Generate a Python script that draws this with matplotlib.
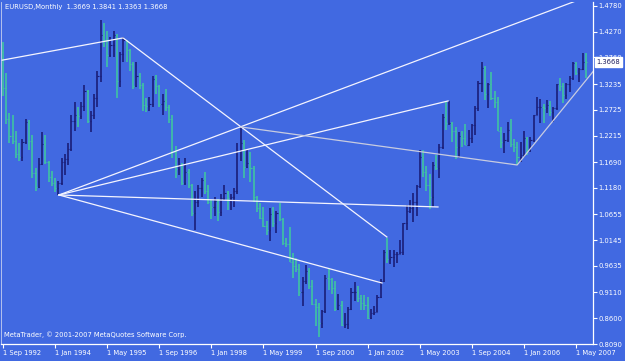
import matplotlib.pyplot as plt
import numpy as np

# EURUSD monthly bars, Sep 1992 .. Aug 2007 (one row per year)
bar_open = [
    1.387, 1.315, 1.255, 1.220,
    1.211, 1.185, 1.180, 1.209, 1.248, 1.210, 1.147, 1.120, 1.165, 1.205, 1.170, 1.140,
    1.127, 1.117, 1.128, 1.170, 1.175, 1.195, 1.250, 1.262, 1.260, 1.280, 1.310, 1.250,
    1.262, 1.295, 1.340, 1.420, 1.410, 1.380, 1.400, 1.420, 1.330, 1.383, 1.410, 1.390,
    1.364, 1.320, 1.340, 1.322, 1.282, 1.280, 1.284, 1.333, 1.320, 1.284, 1.290, 1.278,
    1.254, 1.188, 1.155, 1.164, 1.128, 1.150, 1.124, 1.068, 1.090, 1.118, 1.133, 1.112,
    1.090, 1.080, 1.092, 1.071, 1.098, 1.108, 1.097, 1.100, 1.111, 1.190, 1.207, 1.160,
    1.167, 1.158, 1.100, 1.078, 1.058, 1.043, 1.034, 1.066, 1.049, 1.068, 1.056, 1.009,
    1.007, 0.972, 0.964, 0.957, 0.912, 0.934, 0.953, 0.924, 0.889, 0.883, 0.850, 0.874,
    0.940, 0.938, 0.920, 0.878, 0.887, 0.846, 0.848, 0.878, 0.911, 0.912, 0.901, 0.890,
    0.887, 0.860, 0.870, 0.872, 0.903, 0.933, 0.992, 0.978, 0.982, 0.987, 0.988, 0.992,
    1.049, 1.073, 1.078, 1.091, 1.121, 1.180, 1.149, 1.124, 1.099, 1.164, 1.158, 1.199,
    1.259, 1.246, 1.247, 1.230, 1.198, 1.220, 1.217, 1.202, 1.217, 1.242, 1.276, 1.326,
    1.356, 1.304, 1.323, 1.296, 1.287, 1.230, 1.209, 1.212, 1.232, 1.205, 1.199, 1.179,
    1.184, 1.216, 1.192, 1.212, 1.262, 1.279, 1.279, 1.276, 1.282, 1.268, 1.276, 1.324,
    1.320, 1.301, 1.323, 1.336, 1.365, 1.345, 1.353, 1.3669,
]
bar_high = [
    1.407, 1.345, 1.266, 1.262,
    1.230, 1.207, 1.215, 1.254, 1.252, 1.222, 1.157, 1.178, 1.228, 1.222, 1.171, 1.152,
    1.137, 1.132, 1.178, 1.185, 1.207, 1.262, 1.287, 1.278, 1.287, 1.322, 1.312, 1.270,
    1.304, 1.349, 1.450, 1.445, 1.428, 1.417, 1.428, 1.422, 1.387, 1.417, 1.411, 1.392,
    1.368, 1.368, 1.345, 1.325, 1.295, 1.298, 1.340, 1.342, 1.322, 1.304, 1.313, 1.282,
    1.262, 1.200, 1.178, 1.168, 1.178, 1.155, 1.126, 1.111, 1.124, 1.137, 1.150, 1.124,
    1.093, 1.099, 1.095, 1.105, 1.124, 1.112, 1.105, 1.118, 1.207, 1.238, 1.212, 1.193,
    1.188, 1.161, 1.101, 1.088, 1.081, 1.052, 1.079, 1.080, 1.072, 1.088, 1.058, 1.019,
    1.041, 0.990, 0.979, 0.968, 0.942, 0.966, 0.960, 0.936, 0.899, 0.890, 0.876, 0.945,
    0.959, 0.940, 0.933, 0.908, 0.894, 0.870, 0.883, 0.919, 0.931, 0.924, 0.905, 0.905,
    0.903, 0.878, 0.884, 0.906, 0.937, 0.996, 1.018, 0.995, 0.996, 0.991, 1.015, 1.049,
    1.085, 1.094, 1.108, 1.123, 1.193, 1.193, 1.161, 1.145, 1.170, 1.184, 1.205, 1.265,
    1.290, 1.290, 1.249, 1.239, 1.228, 1.230, 1.244, 1.233, 1.244, 1.280, 1.330, 1.367,
    1.359, 1.326, 1.348, 1.309, 1.298, 1.238, 1.227, 1.248, 1.255, 1.215, 1.208, 1.209,
    1.231, 1.219, 1.218, 1.263, 1.298, 1.293, 1.284, 1.292, 1.289, 1.279, 1.324, 1.336,
    1.326, 1.326, 1.339, 1.368, 1.367, 1.355, 1.385, 1.3841,
]
bar_low = [
    1.300, 1.245, 1.207, 1.205,
    1.178, 1.171, 1.171, 1.205, 1.193, 1.137, 1.111, 1.118, 1.163, 1.165, 1.130, 1.122,
    1.110, 1.104, 1.124, 1.144, 1.164, 1.190, 1.230, 1.238, 1.254, 1.270, 1.246, 1.228,
    1.254, 1.278, 1.327, 1.397, 1.358, 1.377, 1.377, 1.295, 1.318, 1.368, 1.368, 1.349,
    1.313, 1.318, 1.313, 1.270, 1.268, 1.270, 1.278, 1.304, 1.278, 1.262, 1.270, 1.246,
    1.178, 1.137, 1.144, 1.124, 1.124, 1.118, 1.063, 1.035, 1.081, 1.099, 1.105, 1.087,
    1.057, 1.063, 1.052, 1.063, 1.093, 1.075, 1.075, 1.081, 1.105, 1.171, 1.137, 1.157,
    1.129, 1.090, 1.071, 1.057, 1.041, 1.025, 1.012, 1.040, 1.028, 1.052, 1.005, 1.000,
    0.972, 0.940, 0.951, 0.904, 0.885, 0.928, 0.917, 0.886, 0.845, 0.823, 0.840, 0.870,
    0.915, 0.908, 0.874, 0.877, 0.844, 0.840, 0.838, 0.876, 0.895, 0.892, 0.876, 0.876,
    0.858, 0.858, 0.866, 0.872, 0.900, 0.932, 0.969, 0.968, 0.962, 0.969, 0.987, 0.986,
    1.034, 1.068, 1.050, 1.062, 1.117, 1.140, 1.112, 1.077, 1.081, 1.153, 1.138, 1.195,
    1.233, 1.242, 1.208, 1.176, 1.177, 1.198, 1.203, 1.201, 1.206, 1.222, 1.271, 1.307,
    1.292, 1.277, 1.291, 1.277, 1.230, 1.196, 1.187, 1.209, 1.199, 1.189, 1.164, 1.169,
    1.180, 1.183, 1.189, 1.208, 1.262, 1.246, 1.246, 1.267, 1.260, 1.248, 1.273, 1.309,
    1.286, 1.293, 1.308, 1.332, 1.341, 1.327, 1.352, 1.3363,
]
bar_close = [
    1.315, 1.255, 1.220, 1.211,
    1.185, 1.180, 1.209, 1.248, 1.210, 1.147, 1.120, 1.165, 1.205, 1.170, 1.140, 1.127,
    1.117, 1.128, 1.170, 1.175, 1.195, 1.250, 1.262, 1.260, 1.280, 1.310, 1.250, 1.262,
    1.295, 1.340, 1.420, 1.410, 1.380, 1.400, 1.420, 1.330, 1.383, 1.410, 1.390, 1.364,
    1.320, 1.340, 1.322, 1.282, 1.280, 1.284, 1.333, 1.320, 1.284, 1.290, 1.278, 1.254,
    1.188, 1.155, 1.164, 1.128, 1.150, 1.124, 1.068, 1.090, 1.118, 1.133, 1.112, 1.090,
    1.080, 1.092, 1.071, 1.098, 1.108, 1.097, 1.100, 1.111, 1.190, 1.207, 1.160, 1.167,
    1.158, 1.100, 1.078, 1.058, 1.043, 1.034, 1.066, 1.049, 1.068, 1.056, 1.009, 1.007,
    0.972, 0.964, 0.957, 0.912, 0.934, 0.953, 0.924, 0.889, 0.883, 0.850, 0.874, 0.940,
    0.938, 0.920, 0.878, 0.887, 0.846, 0.848, 0.878, 0.911, 0.912, 0.901, 0.890, 0.887,
    0.860, 0.870, 0.872, 0.903, 0.933, 0.992, 0.978, 0.982, 0.987, 0.988, 0.992, 1.049,
    1.073, 1.078, 1.091, 1.121, 1.180, 1.149, 1.124, 1.099, 1.164, 1.158, 1.199, 1.259,
    1.246, 1.247, 1.230, 1.198, 1.220, 1.217, 1.202, 1.217, 1.242, 1.276, 1.326, 1.356,
    1.304, 1.323, 1.296, 1.287, 1.230, 1.209, 1.212, 1.232, 1.205, 1.199, 1.179, 1.184,
    1.216, 1.192, 1.212, 1.262, 1.279, 1.279, 1.276, 1.282, 1.268, 1.276, 1.324, 1.320,
    1.301, 1.323, 1.336, 1.365, 1.345, 1.353, 1.367, 1.3668,
]

# bar index of each date label (every 16 months)
date_ticks = [0, 16, 32, 48, 64, 80, 96, 112, 128, 144, 160, 176]
date_labels = ["1 Sep 1992", "1 Jan 1994", "1 May 1995", "1 Sep 1996", "1 Jan 1998",
               "1 May 1999", "1 Sep 2000", "1 Jan 2002", "1 May 2003", "1 Sep 2004",
               "1 Jan 2006", "1 May 2007"]
price_ticks = [1.4780, 1.4270, 1.3760, 1.3235, 1.2725, 1.2215, 1.1690,
               1.1180, 1.0655, 1.0145, 0.9635, 0.9110, 0.8600, 0.8090]
last_price = 1.3668
header = "EURUSD,Monthly  1.3669 1.3841 1.3363 1.3668"
copyright_note = "MetaTrader, \u00a9 2001-2007 MetaQuotes Software Corp."

# hand drawn trend lines: (bar index, price) points
white_lines = [
    [(-0.6, 1.3703), (36.9, 1.4147), (117.9, 1.0208)],
    [(17.2, 1.1039), (176.0, 1.4880)],
    [(17.2, 1.1039), (136.7, 1.2900)],
    [(17.2, 1.1039), (133.6, 1.0802)],
    [(17.2, 1.1039), (116.4, 0.9297)],
]
silver_lines = [
    [(73.1, 1.2385), (157.9, 1.1633), (181.2, 1.3480)],
]

BG = "#4169E1"
UP = "#1A1E78"
DOWN = "#3FC4A2"
FS = 4.9

o = np.array(bar_open)
h = np.array(bar_high)
lo = np.array(bar_low)
c = np.array(bar_close)
x = np.arange(len(c))
up = c >= o
cols = np.where(up, UP, DOWN)

fig = plt.figure(figsize=(6.25, 3.61), dpi=100, facecolor=BG)
ax = fig.add_axes([1 / 625, 17 / 361, 592 / 625, 342 / 361])
ax.set_facecolor(BG)

ax.vlines(x, lo, h, colors=cols, lw=1.2)
ax.hlines(o, x - 0.35, x, colors=cols, lw=0.8)
ax.hlines(c, x, x + 0.35, colors=cols, lw=0.8)

for pts in white_lines:
    xs, ys = zip(*pts)
    ax.plot(xs, ys, color="#F4F4FF", lw=0.9)
for pts in silver_lines:
    xs, ys = zip(*pts)
    ax.plot(xs, ys, color="#C8CCE0", lw=0.9)

ax.set_xlim(-0.6, 181.2)
ax.set_ylim(0.8090, 1.4858)

ax.set_xticks(date_ticks, date_labels)
for lbl in ax.get_xticklabels():
    lbl.set_horizontalalignment("left")
ax.tick_params(axis="x", colors="white", length=3, width=0.8, labelsize=FS, pad=1)

ax.yaxis.tick_right()
ax.set_yticks(price_ticks, [f"{v:.4f}" for v in price_ticks])
ax.tick_params(axis="y", colors="white", length=3, width=0.8, labelsize=FS, pad=1)

ax.spines["top"].set_visible(False)
ax.spines["left"].set_color("#C8D0F0")
ax.spines["left"].set_linewidth(0.6)
for s in ("right", "bottom"):
    ax.spines[s].set_color("white")
    ax.spines[s].set_linewidth(0.9)

# current price marker on the price scale (covers the 1.3760 label as in the terminal)
ax.annotate(f"{last_price:.4f}", xy=(1, last_price), xycoords=ax.get_yaxis_transform(),
            xytext=(2.6, 0), textcoords="offset points", ha="left", va="center",
            fontsize=FS, color="#202060", annotation_clip=False, zorder=5,
            bbox=dict(boxstyle="square,pad=0.25", facecolor="white", edgecolor="white"))

fig.text(5 / 625, 1 - 7 / 361, header, color="white", fontsize=FS, va="center", ha="left")
fig.text(4 / 625, 1 - 335 / 361, copyright_note, color="white", fontsize=FS, va="center", ha="left")

fig.savefig("out.png", dpi=100, facecolor=BG)
